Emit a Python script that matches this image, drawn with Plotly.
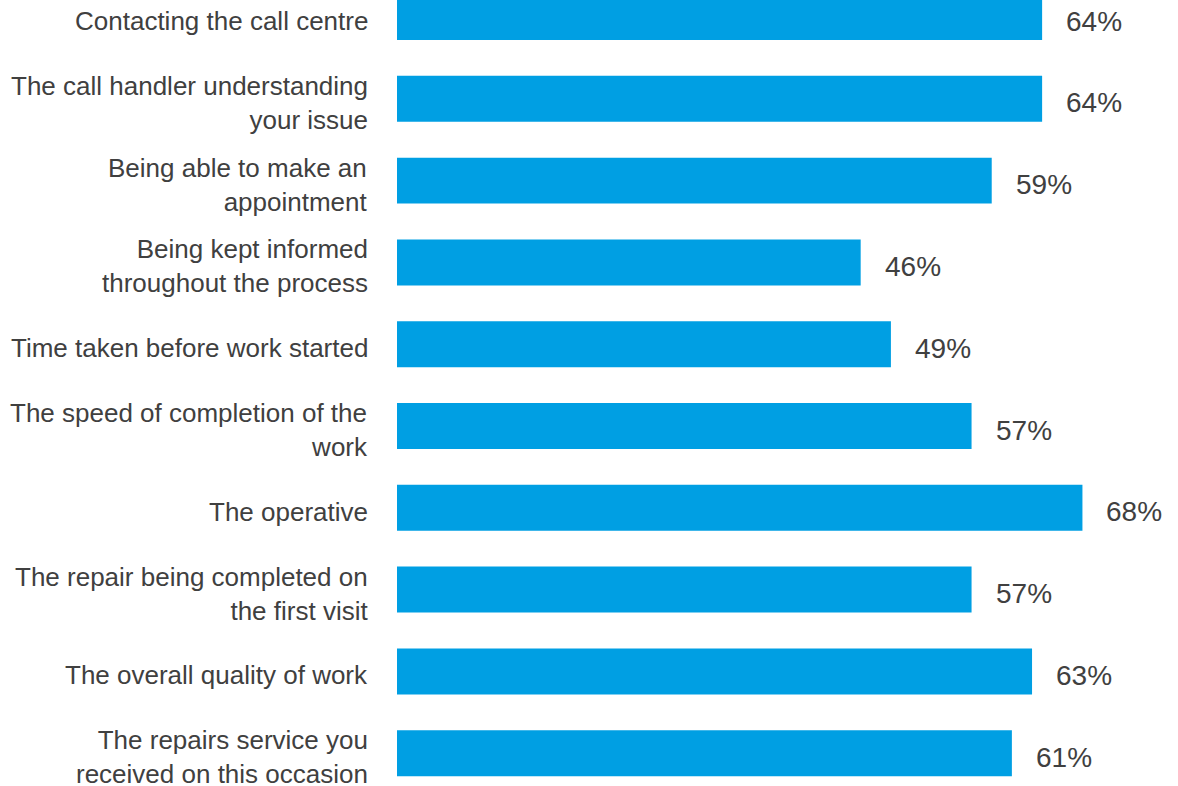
import plotly.graph_objects as go

# Satisfaction with aspects of the repairs service (% satisfied)
categories = [
    "Contacting the call centre",
    "The call handler understanding<br>your issue",
    "Being able to make an<br>appointment",
    "Being kept informed<br>throughout the process",
    "Time taken before work started",
    "The speed of completion of the<br>work",
    "The operative",
    "The repair being completed on<br>the first visit",
    "The overall quality of work",
    "The repairs service you<br>received on this occasion",
]
values = [64, 64, 59, 46, 49, 57, 68, 57, 63, 61]
value_labels = [f"{v}%" for v in values]

BAR_COLOR = "#009FE3"
TEXT_COLOR = "#404040"
FONT = "Liberation Sans, Arial, sans-serif"

fig = go.Figure(
    go.Bar(
        x=values,
        y=categories,
        orientation="h",
        marker=dict(color=BAR_COLOR, line=dict(width=0)),
        width=0.562,
        hoverinfo="skip",
    )
)

for cat, v, lab in zip(categories, values, value_labels):
    # category label, right-aligned to the left of the plot area
    fig.add_annotation(
        x=0, xref="paper", y=cat, text=cat, showarrow=False,
        xanchor="right", yanchor="middle", align="right",
        xshift=-28, yshift=-4, borderpad=0,
        font=dict(family=FONT, size=26, color=TEXT_COLOR),
    )
    # value label to the right of each bar
    fig.add_annotation(
        x=v, y=cat, text=lab, showarrow=False,
        xanchor="left", yanchor="middle", xshift=22, yshift=-4,
        font=dict(family=FONT, size=28, color=TEXT_COLOR),
    )

fig.update_layout(
    width=1178, height=786,
    margin=dict(l=397, r=0, t=0, b=0),
    paper_bgcolor="white", plot_bgcolor="white",
    showlegend=False,
    font=dict(family=FONT, color=TEXT_COLOR),
    xaxis=dict(range=[0, 77.48], visible=False, fixedrange=True),
    yaxis=dict(
        type="category",
        categoryorder="array", categoryarray=categories,
        range=[9.401, -0.208],
        showgrid=False, zeroline=False, showline=False,
        showticklabels=False, ticks="",
        fixedrange=True,
    ),
)

fig.write_html("out.html")
